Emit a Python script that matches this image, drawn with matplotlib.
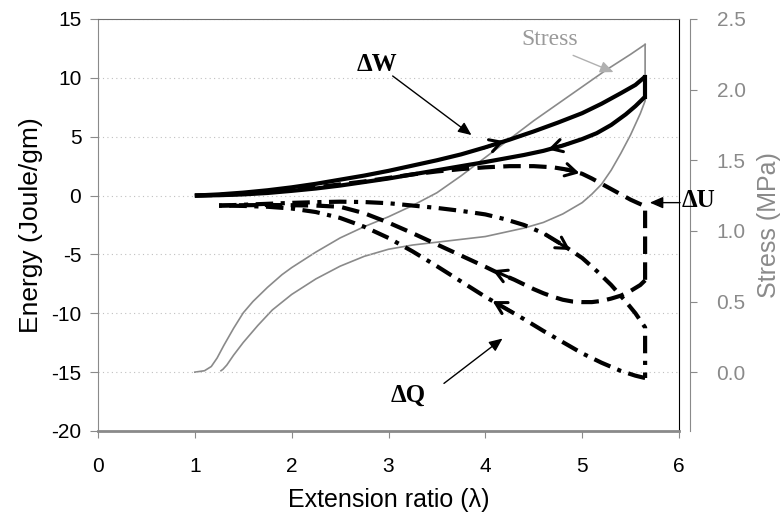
import numpy as np
import matplotlib
matplotlib.use("Agg")
import matplotlib.pyplot as plt

plt.rcParams['font.family'] = ['Liberation Sans', 'DejaVu Sans']
plt.rcParams['axes.unicode_minus'] = False

# Energy curves (Joule/gm) vs extension ratio
w_load_x = [1.0, 1.25, 1.5, 1.75, 2.0, 2.25, 2.5, 2.75, 3.0, 3.25, 3.5, 3.75, 4.0, 4.25,
            4.5, 4.75, 5.0, 5.2, 5.4, 5.55, 5.65]
w_load_y = [0.0, 0.1, 0.25, 0.45, 0.7, 1.0, 1.35, 1.7, 2.1, 2.55, 3.0, 3.5, 4.1, 4.75,
            5.45, 6.2, 7.0, 7.8, 8.7, 9.4, 10.1]
w_unload_x = [5.65, 5.55, 5.45, 5.3, 5.15, 5.0, 4.8, 4.6, 4.4, 4.2, 4.0, 3.75, 3.5, 3.25,
              3.0, 2.75, 2.5, 2.25, 2.0, 1.75, 1.5, 1.25, 1.0]
w_unload_y = [8.4, 7.6, 6.9, 6.0, 5.3, 4.8, 4.25, 3.8, 3.45, 3.15, 2.85, 2.5, 2.15, 1.8,
              1.45, 1.15, 0.85, 0.6, 0.4, 0.22, 0.1, 0.03, 0.0]

u_load_x = [1.0, 1.25, 1.5, 1.75, 2.0, 2.25, 2.5, 2.75, 3.0, 3.25, 3.5, 3.75, 4.0, 4.25,
            4.5, 4.7, 4.85, 5.0, 5.1, 5.2, 5.3, 5.4, 5.5, 5.58, 5.65]
u_load_y = [0.0, 0.05, 0.15, 0.3, 0.5, 0.7, 0.95, 1.2, 1.5, 1.8, 2.05, 2.25, 2.4, 2.5,
            2.5, 2.4, 2.2, 1.85, 1.45, 1.0, 0.55, 0.1, -0.35, -0.65, -0.9]
u_unload_x = [5.65, 5.6, 5.5, 5.4, 5.3, 5.2, 5.1, 5.0, 4.9, 4.8, 4.7, 4.6, 4.5, 4.4, 4.3,
              4.2, 4.1, 4.0, 3.75, 3.5, 3.25, 3.0, 2.75, 2.5, 2.25, 2.0, 1.75, 1.5, 1.25]
u_unload_y = [-7.2, -7.6, -8.1, -8.5, -8.75, -8.95, -9.05, -9.05, -9.0, -8.85, -8.6, -8.3,
              -7.95, -7.55, -7.15, -6.8, -6.45, -6.05, -5.1, -4.15, -3.2, -2.3, -1.5,
              -0.95, -0.85, -0.82, -0.8, -0.82, -0.85]

q_load_x = [1.25, 1.5, 1.75, 2.0, 2.25, 2.5, 2.75, 3.0, 3.25, 3.5, 3.75, 4.0, 4.2, 4.4,
            4.6, 4.8, 5.0, 5.15, 5.3, 5.45, 5.55, 5.65]
q_load_y = [-0.85, -0.78, -0.7, -0.62, -0.56, -0.52, -0.55, -0.65, -0.85, -1.05, -1.3,
            -1.6, -2.0, -2.5, -3.2, -4.2, -5.3, -6.4, -7.6, -9.0, -10.0, -11.2]
q_unload_x = [5.65, 5.55, 5.4, 5.2, 5.0, 4.8, 4.6, 4.4, 4.2, 4.0, 3.75, 3.5, 3.25, 3.0,
              2.75, 2.5, 2.25, 2.0, 1.75, 1.5, 1.25]
q_unload_y = [-15.5, -15.3, -14.9, -14.2, -13.4, -12.45, -11.5, -10.5, -9.55, -8.6, -7.3,
              -6.0, -4.75, -3.6, -2.65, -1.9, -1.4, -1.1, -0.95, -0.88, -0.85]

# Stress (MPa) loop
s_load_x = [1.0, 1.1, 1.17, 1.23, 1.3, 1.4, 1.5, 1.6, 1.75, 1.9, 2.0, 2.25, 2.5, 2.75,
            3.0, 3.25, 3.5, 3.75, 4.0, 4.25, 4.5, 4.75, 5.0, 5.25, 5.5, 5.65]
s_load_y = [0.0, 0.01, 0.04, 0.1, 0.19, 0.31, 0.42, 0.5, 0.6, 0.69, 0.74, 0.85, 0.95,
            1.03, 1.1, 1.18, 1.27, 1.39, 1.52, 1.65, 1.78, 1.9, 2.02, 2.14, 2.25, 2.32]
s_unload_x = [5.65, 5.65, 5.6, 5.5, 5.4, 5.3, 5.2, 5.1, 5.0, 4.8, 4.6, 4.4, 4.2, 4.0,
              3.75, 3.5, 3.25, 3.0, 2.75, 2.5, 2.25, 2.0, 1.8, 1.65, 1.5, 1.4, 1.33,
              1.29, 1.27]
s_unload_y = [2.32, 1.92, 1.83, 1.68, 1.55, 1.43, 1.33, 1.26, 1.2, 1.12, 1.06, 1.02, 0.99,
              0.96, 0.94, 0.92, 0.9, 0.87, 0.82, 0.75, 0.66, 0.55, 0.44, 0.33, 0.21, 0.12,
              0.05, 0.02, 0.01]

energy_ticks = [15, 10, 5, 0, -5, -10, -15, -20]
stress_ticks = [0.0, 0.5, 1.0, 1.5, 2.0, 2.5]
ratio_ticks = [0, 1, 2, 3, 4, 5, 6]

GRAY = '#8a8a8a'
dash = (4.2, 2.0)
dashdot = (4.2, 1.8, 1.0, 1.8)

fig = plt.figure(figsize=(7.81, 5.15), dpi=100)
ax = fig.add_axes([98 / 781, 84 / 515, 581 / 781, 412 / 515])
ax2 = ax.twinx()

# stress on secondary axis, drawn behind the energy lines
ax2.plot(s_load_x, s_load_y, color=GRAY, lw=1.2)
ax2.plot(s_unload_x, s_unload_y, color=GRAY, lw=1.2)
ax2.set_ylim(-5 / 12, 2.5)
ax2.set_yticks(stress_ticks)
ax2.set_yticklabels([f'{v:.1f}' for v in stress_ticks])
ax2.set_ylabel('Stress (MPa)', color=GRAY, fontsize=18, labelpad=8)
ax2.tick_params(axis='y', colors=GRAY, labelsize=15, direction='out', length=5, pad=14)
for s in ['top', 'left', 'bottom']:
    ax2.spines[s].set_visible(False)
ax2.spines['right'].set_position(('outward', 8))
ax2.spines['right'].set_color(GRAY)

ax.set_zorder(ax2.get_zorder() + 1)
ax.patch.set_visible(False)

lw = 3.0
ax.plot(w_load_x, w_load_y, color='k', lw=lw, solid_capstyle='butt')
ax.plot([5.65, 5.65], [w_load_y[-1], w_unload_y[0]], color='k', lw=lw)
ax.plot(w_unload_x, w_unload_y, color='k', lw=lw, solid_capstyle='butt')

ax.plot(u_load_x + [5.65], u_load_y + [u_unload_y[0]], color='k', lw=lw, dashes=dash)
ax.plot(u_unload_x, u_unload_y, color='k', lw=lw, dashes=dash)

ax.plot(q_load_x + [5.65], q_load_y + [q_unload_y[0]], color='k', lw=lw, dashes=dashdot)
ax.plot(q_unload_x, q_unload_y, color='k', lw=lw, dashes=dashdot)

# direction arrows along the curves
curve_arrows = [
    ((3.95, 3.95), (4.22, 4.7)),
    ((4.9, 4.5), (4.62, 3.85)),
    ((4.75, 2.35), (5.0, 1.85)),
    ((4.6, -3.2), (4.9, -4.75)),
    ((4.3, -7.15), (4.05, -6.25)),
    ((4.3, -10.0), (4.05, -8.85)),
]
for tail, tip in curve_arrows:
    ax.annotate('', xy=tip, xytext=tail,
                arrowprops=dict(arrowstyle='->,head_length=0.8,head_width=0.45',
                                lw=2.2, color='k'))

# labels with pointer arrows
label_font = dict(family=['Liberation Serif', 'DejaVu Serif'], fontsize=18, fontweight='bold')
head = '-|>,head_length=0.8,head_width=0.35'
ax.text(2.88, 11.1, 'ΔW', ha='center', va='center', **label_font)
ax.annotate('', xy=(3.88, 5.0), xytext=(3.02, 10.3),
            arrowprops=dict(arrowstyle=head, lw=1, color='k'))
ax.text(3.2, -17.0, 'ΔQ', ha='center', va='center', **label_font)
ax.annotate('', xy=(4.2, -12.0), xytext=(3.55, -16.1),
            arrowprops=dict(arrowstyle=head, lw=1, color='k'))
ax.text(6.03, -0.4, 'ΔU', ha='left', va='center', clip_on=False, **label_font)
ax.annotate('', xy=(5.67, -0.6), xytext=(6.04, -0.6), annotation_clip=False,
            arrowprops=dict(arrowstyle=head, lw=1, color='k'))
ax.text(4.66, 13.3, 'Stress', ha='center', va='center', color='#9a9a9a',
        family=['Liberation Serif', 'DejaVu Serif'], fontsize=17)
ax.annotate('', xy=(5.35, 10.4), xytext=(4.88, 12.0),
            arrowprops=dict(arrowstyle=head, lw=1, color='#b0b0b0'))

ax.set_xlim(0, 6)
ax.set_ylim(-20, 15)
ax.set_xticks(ratio_ticks)
ax.set_yticks(energy_ticks)
ax.set_xlabel('Extension ratio (λ)', fontsize=18, labelpad=8)
ax.set_ylabel('Energy (Joule/gm)', fontsize=19, labelpad=6)
ax.tick_params(axis='x', labelsize=15, direction='out', length=5, color=GRAY, pad=14)
ax.tick_params(axis='y', labelsize=15, direction='out', length=6, color=GRAY, pad=6)

ax.yaxis.grid(True, linestyle=(0, (1, 3)), color='#c0c0c0', lw=0.8)
ax.set_axisbelow(True)
ax.spines['left'].set_color(GRAY)
ax.spines['top'].set_color('#707070')
ax.spines['bottom'].set_color(GRAY)
ax.spines['bottom'].set_linewidth(2)
ax.spines['right'].set_color('k')

fig.savefig('out.png', dpi=100)
